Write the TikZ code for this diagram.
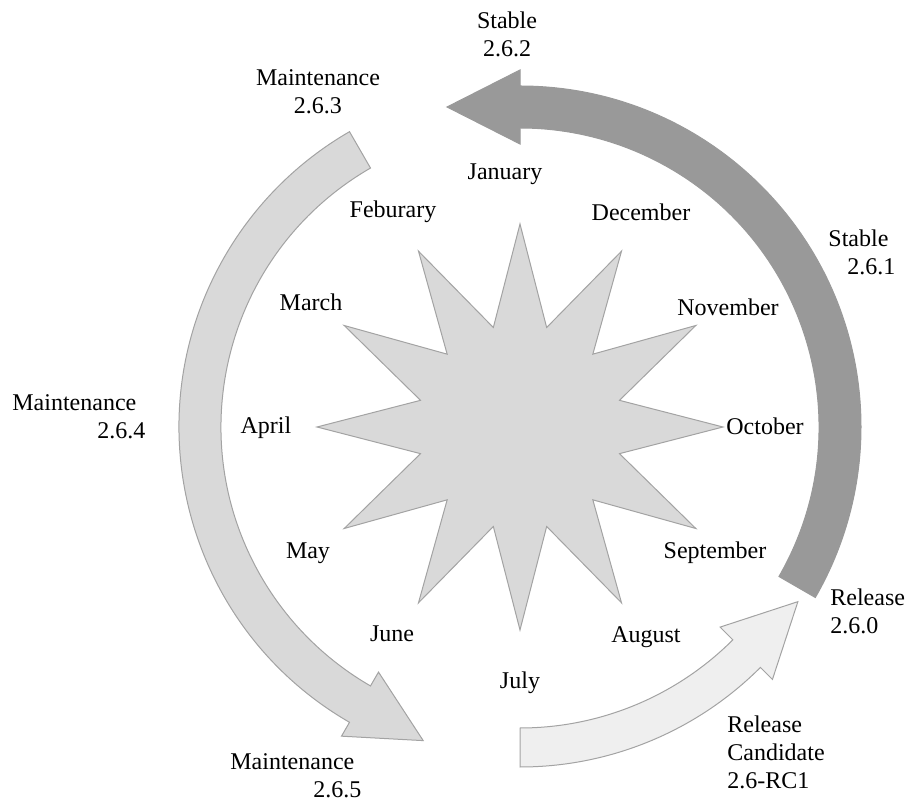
\documentclass[tikz,border=0pt]{standalone}
\usepackage{fontspec}
\setmainfont{Liberation Serif}
\definecolor{bandDark}{HTML}{999999}
\definecolor{bandMid}{HTML}{D9D9D9}
\definecolor{bandLight}{HTML}{EFEFEF}
\definecolor{edgeGray}{HTML}{A3A3A3}
\begin{document}
\begin{tikzpicture}[x=0.5pt, y=0.5pt,
  lbl/.style={inner sep=0pt, font=\fontsize{12}{14}\selectfont},
  month/.style={lbl}]
\useasboundingbox (-520,-380) rectangle (389,427);
% the twelve-pointed star
\filldraw[fill=bandMid, draw=edgeGray, line width=0.5pt] (0:203)
  \foreach \a in {0,30,...,330} { -- (\a+15:103) -- (\a+30:203) } -- cycle;
% the three band arrows
\begin{scope}[line width=0.5pt]
\filldraw[fill=bandDark, draw=bandDark]
  (-30:299) arc[start angle=-30, end angle=90, radius=299]
  -- (90:283) -- ([shift={(90:320)}]180:73) -- (90:357) -- (90:341)
  arc[start angle=90, end angle=-30, radius=341] -- cycle;
\filldraw[fill=bandMid, draw=edgeGray]
  (120:299) arc[start angle=120, end angle=240, radius=299]
  -- (240:283) -- ([shift={(240:320)}]-30:73) -- (240:357) -- (240:341)
  arc[start angle=240, end angle=120, radius=341] -- cycle;
\filldraw[fill=bandLight, draw=edgeGray]
  (270:301) arc[start angle=270, end angle=315, radius=301]
  -- (315:283) -- ([shift={(315:320)}]45:73) -- (315:357) -- (315:340)
  arc[start angle=315, end angle=270, radius=340] -- cycle;
\end{scope}
% months
\node[month] (jan) at (-15,253) {January};
\node[month] (feb) at (-127,215) {Feburary};
\node[month] (mar) at (-209,125) {March};
\node[month] (apr) at (-254,-1) {April};
\node[month] (may) at (-212,-126) {May};
\node[month] (jun) at (-128,-207) {June};
\node[month] (jul) at (0,-256) {July};
\node[month] (aug) at (126,-210) {August};
\node[month] (sep) at (195,-126) {September};
\node[month] (oct) at (245,1) {October};
\node[month] (nov) at (208,120) {November};
\node[month] (dec) at (121,215) {December};
% releases
\node[lbl, align=center] (st262) at (-13,393) {Stable\\2.6.2};
\node[lbl, align=center] (mt263) at (-202,335) {Maintenance\\2.6.3};
\node[lbl, align=left, anchor=west] (st261) at (308,175) {Stable\\\hspace*{9.5pt}2.6.1};
\node[lbl, align=left, anchor=west] (mt264) at (-508,10) {Maintenance\\\hspace*{42.5pt}2.6.4};
\node[lbl, align=left, anchor=west] (rel260) at (310,-184) {Release\\2.6.0};
\node[lbl, align=left, anchor=west] (rc1) at (207,-325) {Release\\Candidate\\2.6-RC1};
\node[lbl, align=left, anchor=west] (mt265) at (-290,-349) {Maintenance\\\hspace*{41.5pt}2.6.5};
\end{tikzpicture}
\end{document}
